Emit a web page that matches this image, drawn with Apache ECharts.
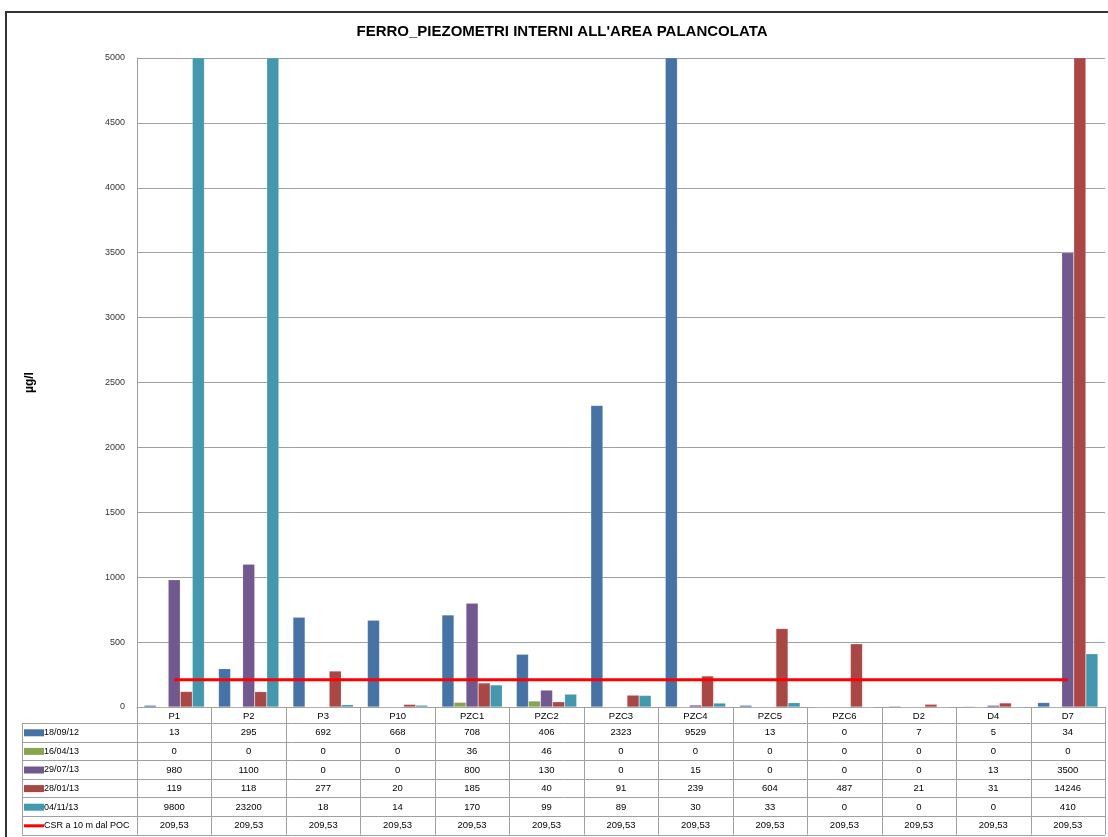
<!DOCTYPE html>
<html><head><meta charset="utf-8">
<script src="https://cdn.jsdelivr.net/npm/echarts@6/dist/echarts.min.js"></script>
<style>html,body{margin:0;padding:0;background:#fff}#c{width:1108px;height:837px}</style>
</head><body><div id="c"></div>
<script>
const titleText = "FERRO_PIEZOMETRI INTERNI ALL'AREA PALANCOLATA";
const yName = 'µg/l';
const categories = ['P1','P2','P3','P10','PZC1','PZC2','PZC3','PZC4','PZC5','PZC6','D2','D4','D7'];
const seriesNames = ['18/09/12','16/04/13','29/07/13','28/01/13','04/11/13'];
const s1809 = [13,295,692,668,708,406,2323,9529,13,0,7,5,34];
const s1604 = [0,0,0,0,36,46,0,0,0,0,0,0,0];
const s2907 = [980,1100,0,0,800,130,0,15,0,0,0,13,3500];
const s2801 = [119,118,277,20,185,40,91,239,604,487,21,31,14246];
const s0411 = [9800,23200,18,14,170,99,89,30,33,0,0,0,410];
const csrName = 'CSR a 10 m dal POC';
const csr = [209.53,209.53,209.53,209.53,209.53,209.53,209.53,209.53,209.53,209.53,209.53,209.53,209.53];
const colors = ['#4572A7','#89A54E','#71588F','#AA4643','#4198AF'];
const csrColor = '#FF0000';

const FONT = "'Liberation Sans',Arial,sans-serif";
const chart = echarts.init(document.getElementById('c'), null, {renderer:'canvas'});
const barData = [s1809,s1604,s2907,s2801,s0411];
const GL = 137, GR = 1105, GT = 58, GB = 707;

const series = barData.map((d,i)=>({
  name: seriesNames[i], type:'bar', data:d, barGap:'0%', barCategoryGap:'19%',
  clip:true, itemStyle:{color:colors[i], borderColor:'rgba(255,255,255,0.35)', borderWidth:0.5}
}));
series.push({name:csrName, type:'line', data:csr, symbol:'none', lineStyle:{color:csrColor,width:3}, z:5});

chart.setOption({
  animation:false,
  grid:{left:GL, right:1108-GR, top:GT, bottom:837-GB, containLabel:false},
  xAxis:{type:'category', data:categories, boundaryGap:true,
    axisLine:{lineStyle:{color:'#a0a0a0'}}, axisTick:{show:false}, axisLabel:{show:false}},
  yAxis:{type:'value', min:0, max:5000, interval:500,
    name:yName, nameLocation:'middle', nameGap:101,
    nameTextStyle:{fontFamily:FONT, fontSize:12, fontWeight:'bold', color:'#000'},
    axisLine:{show:true, lineStyle:{color:'#a0a0a0'}}, axisTick:{show:false},
    axisLabel:{fontFamily:FONT, fontSize:9, color:'#333', margin:12, formatter:v=>String(v)},
    splitLine:{lineStyle:{color:'#a0a0a0'}}},
  series: series
});

const g = [];
g.push({type:'rect', shape:{x:6,y:12,width:1200,height:900}, style:{fill:'none', stroke:'#333', lineWidth:2}});
g.push({type:'text', x:562, y:32, style:{text:titleText, fontFamily:FONT, fontSize:15, fontWeight:'bold', fill:'#000', align:'center', verticalAlign:'middle'}});

const lineC = '#a0a0a0';
const rowTop = 723, rowH = 18.6, nRows = 6, tabLeft = 22;
const tabBottom = rowTop + rowH*nRows;
const catW = (GR-GL)/categories.length;
for (let r=0;r<=nRows;r++){
  const y = Math.round(rowTop + rowH*r)+0.5;
  g.push({type:'line', shape:{x1:tabLeft,y1:y,x2:GR,y2:y}, style:{stroke:lineC,lineWidth:1}});
}
g.push({type:'line', shape:{x1:tabLeft+0.5,y1:rowTop,x2:tabLeft+0.5,y2:tabBottom}, style:{stroke:lineC,lineWidth:1}});
for (let k=0;k<=categories.length;k++){
  const x = Math.round(GL + catW*k)+0.5;
  g.push({type:'line', shape:{x1:x,y1:GB,x2:x,y2:tabBottom}, style:{stroke:lineC,lineWidth:1}});
}
categories.forEach((c,i)=>{
  const cx = chart.convertToPixel({xAxisIndex:0}, i);
  g.push({type:'text', x:cx, y:(GB+rowTop)/2+1, style:{text:c, fontFamily:FONT, fontSize:9.5, fill:'#000', align:'center', verticalAlign:'middle'}});
});
const rowsData = barData.concat([csr]);
const rowNames = seriesNames.concat([csrName]);
rowsData.forEach((arr,r)=>{
  const cy = rowTop + rowH*r + rowH/2 + 0.5;
  if (r < 5) {
    g.push({type:'rect', shape:{x:24,y:cy-3.5,width:20,height:7}, style:{fill:colors[r]}});
  } else {
    g.push({type:'line', shape:{x1:24,y1:cy,x2:44,y2:cy}, style:{stroke:csrColor,lineWidth:3}});
  }
  g.push({type:'text', x:44, y:cy, style:{text:rowNames[r], fontFamily:FONT, fontSize:9, fill:'#000', align:'left', verticalAlign:'middle'}});
  arr.forEach((v,i)=>{
    const cx = chart.convertToPixel({xAxisIndex:0}, i);
    const t = r===5 ? v.toFixed(2).replace('.',',') : String(v);
    g.push({type:'text', x:cx, y:cy, style:{text:t, fontFamily:FONT, fontSize:9.5, fill:'#000', align:'center', verticalAlign:'middle'}});
  });
});
chart.setOption({graphic:g.map(e=>Object.assign({silent:true}, e))});
</script></body></html>
